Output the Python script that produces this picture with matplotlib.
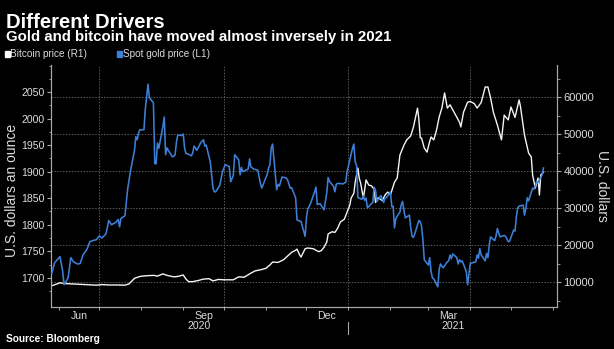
import numpy as np
import pandas as pd
import matplotlib
matplotlib.use("Agg")
import matplotlib.pyplot as plt
import matplotlib.dates as mdates
from matplotlib.patches import Rectangle
from matplotlib.lines import Line2D

plt.rcParams['font.family'] = ['Liberation Sans', 'DejaVu Sans']

# spot gold, USD per ounce (left axis)
gold_dates = [
    "2020-05-27", "2020-05-29", "2020-06-02", "2020-06-04", "2020-06-05", "2020-06-08",
    "2020-06-10", "2020-06-12", "2020-06-15", "2020-06-17", "2020-06-19", "2020-06-22",
    "2020-06-24", "2020-06-26", "2020-06-29", "2020-07-01", "2020-07-03", "2020-07-06",
    "2020-07-08", "2020-07-10", "2020-07-13", "2020-07-15", "2020-07-16", "2020-07-17",
    "2020-07-20", "2020-07-21", "2020-07-22", "2020-07-24", "2020-07-27", "2020-07-28",
    "2020-07-29", "2020-07-30", "2020-07-31", "2020-08-03", "2020-08-04", "2020-08-06",
    "2020-08-07", "2020-08-10", "2020-08-11", "2020-08-12", "2020-08-13", "2020-08-14",
    "2020-08-17", "2020-08-18", "2020-08-19", "2020-08-20", "2020-08-21", "2020-08-24",
    "2020-08-25", "2020-08-26", "2020-08-27", "2020-08-28", "2020-08-31", "2020-09-01",
    "2020-09-02", "2020-09-03", "2020-09-04", "2020-09-07", "2020-09-08", "2020-09-09",
    "2020-09-10", "2020-09-11", "2020-09-14", "2020-09-16", "2020-09-17", "2020-09-18",
    "2020-09-21", "2020-09-23", "2020-09-24", "2020-09-25", "2020-09-28", "2020-09-30",
    "2020-10-02", "2020-10-05", "2020-10-06", "2020-10-08", "2020-10-09", "2020-10-12",
    "2020-10-13", "2020-10-14", "2020-10-15", "2020-10-19", "2020-10-20", "2020-10-21",
    "2020-10-23", "2020-10-26", "2020-10-28", "2020-10-29", "2020-11-02", "2020-11-03",
    "2020-11-04", "2020-11-05", "2020-11-06", "2020-11-09", "2020-11-10", "2020-11-11",
    "2020-11-13", "2020-11-16", "2020-11-17", "2020-11-19", "2020-11-20", "2020-11-23",
    "2020-11-24", "2020-11-27", "2020-11-30", "2020-12-01", "2020-12-02", "2020-12-04",
    "2020-12-07", "2020-12-08", "2020-12-09", "2020-12-11", "2020-12-14", "2020-12-16",
    "2020-12-17", "2020-12-18", "2020-12-21", "2020-12-22", "2020-12-23", "2020-12-24",
    "2020-12-28", "2020-12-30", "2020-12-31", "2021-01-04", "2021-01-05", "2021-01-06",
    "2021-01-07", "2021-01-08", "2021-01-11", "2021-01-12", "2021-01-13", "2021-01-14",
    "2021-01-15", "2021-01-18", "2021-01-19", "2021-01-20", "2021-01-21", "2021-01-22",
    "2021-01-25", "2021-01-27", "2021-01-28", "2021-01-29", "2021-02-01", "2021-02-02",
    "2021-02-03", "2021-02-04", "2021-02-05", "2021-02-08", "2021-02-09", "2021-02-10",
    "2021-02-11", "2021-02-12", "2021-02-15", "2021-02-16", "2021-02-17", "2021-02-18",
    "2021-02-19", "2021-02-22", "2021-02-23", "2021-02-24", "2021-02-25", "2021-02-26",
    "2021-03-01", "2021-03-02", "2021-03-03", "2021-03-04", "2021-03-05", "2021-03-08",
    "2021-03-09", "2021-03-10", "2021-03-11", "2021-03-12", "2021-03-15", "2021-03-16",
    "2021-03-17", "2021-03-18", "2021-03-19", "2021-03-22", "2021-03-23", "2021-03-24",
    "2021-03-25", "2021-03-26", "2021-03-29", "2021-03-30", "2021-03-31", "2021-04-01",
    "2021-04-02", "2021-04-05", "2021-04-06", "2021-04-07", "2021-04-08", "2021-04-09",
    "2021-04-12", "2021-04-13", "2021-04-14", "2021-04-15", "2021-04-16", "2021-04-19",
    "2021-04-20", "2021-04-21", "2021-04-22", "2021-04-23", "2021-04-26", "2021-04-27",
    "2021-04-28", "2021-04-29", "2021-04-30", "2021-05-03", "2021-05-04", "2021-05-05",
    "2021-05-06", "2021-05-07", "2021-05-10", "2021-05-11", "2021-05-12", "2021-05-13",
    "2021-05-14", "2021-05-17", "2021-05-18", "2021-05-19", "2021-05-20", "2021-05-21",
    "2021-05-24", "2021-05-25",
]
gold_prices = [
    1709, 1728, 1740, 1712, 1687, 1700,
    1738, 1730, 1726, 1727, 1743, 1754,
    1768, 1770, 1772, 1779, 1775, 1783,
    1808, 1800, 1804, 1810, 1796, 1812,
    1817, 1842, 1868, 1900, 1940, 1966,
    1960, 1973, 1979, 1979, 2018, 2065,
    2039, 2030, 1915, 1915, 1954, 1944,
    1985, 2003, 1932, 1945, 1940, 1928,
    1929, 1932, 1956, 1969, 1968, 1971,
    1945, 1934, 1934, 1930, 1935, 1948,
    1945, 1940, 1955, 1960, 1948, 1950,
    1918, 1869, 1862, 1862, 1874, 1900,
    1913, 1910, 1881, 1893, 1932, 1922,
    1894, 1908, 1900, 1905, 1924, 1909,
    1905, 1903, 1878, 1869, 1895, 1907,
    1913, 1945, 1952, 1866, 1876, 1873,
    1890, 1888, 1885, 1869, 1870, 1851,
    1809, 1806, 1778, 1814, 1830, 1840,
    1862, 1871, 1838, 1840, 1828, 1860,
    1889, 1882, 1872, 1862, 1876, 1878,
    1877, 1880, 1900, 1944, 1952, 1918,
    1912, 1851, 1848, 1855, 1846, 1850,
    1832, 1840, 1842, 1871, 1865, 1844,
    1855, 1842, 1850, 1851, 1862, 1834,
    1835, 1794, 1812, 1824, 1838, 1844,
    1826, 1813, 1818, 1795, 1778, 1776,
    1783, 1808, 1806, 1797, 1771, 1734,
    1724, 1738, 1712, 1700, 1698, 1683,
    1716, 1726, 1722, 1719, 1730, 1732,
    1743, 1736, 1745, 1738, 1726, 1734,
    1730, 1732, 1712, 1687, 1708, 1728,
    1728, 1730, 1743, 1737, 1755, 1743,
    1732, 1746, 1738, 1763, 1777, 1770,
    1779, 1793, 1784, 1777, 1780, 1778,
    1773, 1768, 1769, 1790, 1788, 1815,
    1832, 1835, 1837, 1818, 1830, 1851,
    1845, 1869, 1867, 1874, 1881, 1880,
    1894, 1907,
]

# bitcoin, USD (right axis)
btc_dates = [
    "2020-05-27", "2020-05-31", "2020-06-02", "2020-06-05", "2020-06-10", "2020-06-15",
    "2020-06-20", "2020-06-25", "2020-06-29", "2020-07-03", "2020-07-08", "2020-07-14",
    "2020-07-20", "2020-07-23", "2020-07-27", "2020-07-31", "2020-08-02", "2020-08-05",
    "2020-08-10", "2020-08-13", "2020-08-17", "2020-08-20", "2020-08-25", "2020-08-28",
    "2020-09-01", "2020-09-03", "2020-09-05", "2020-09-08", "2020-09-12", "2020-09-16",
    "2020-09-20", "2020-09-23", "2020-09-27", "2020-10-01", "2020-10-08", "2020-10-12",
    "2020-10-16", "2020-10-21", "2020-10-24", "2020-10-28", "2020-11-01", "2020-11-04",
    "2020-11-06", "2020-11-10", "2020-11-14", "2020-11-17", "2020-11-20", "2020-11-23",
    "2020-11-24", "2020-11-26", "2020-11-27", "2020-11-30", "2020-12-02", "2020-12-06",
    "2020-12-10", "2020-12-12", "2020-12-14", "2020-12-16", "2020-12-17", "2020-12-20",
    "2020-12-22", "2020-12-24", "2020-12-26", "2020-12-29", "2020-12-31", "2021-01-02",
    "2021-01-03", "2021-01-05", "2021-01-06", "2021-01-08", "2021-01-09", "2021-01-10",
    "2021-01-12", "2021-01-13", "2021-01-14", "2021-01-16", "2021-01-18", "2021-01-20",
    "2021-01-21", "2021-01-23", "2021-01-26", "2021-01-28", "2021-01-30", "2021-02-01",
    "2021-02-04", "2021-02-06", "2021-02-08", "2021-02-11", "2021-02-13", "2021-02-16",
    "2021-02-18", "2021-02-21", "2021-02-22", "2021-02-23", "2021-02-24", "2021-02-26",
    "2021-02-28", "2021-03-02", "2021-03-03", "2021-03-05", "2021-03-07", "2021-03-09",
    "2021-03-11", "2021-03-13", "2021-03-15", "2021-03-17", "2021-03-20", "2021-03-24",
    "2021-03-25", "2021-03-27", "2021-03-30", "2021-04-01", "2021-04-04", "2021-04-06",
    "2021-04-09", "2021-04-12", "2021-04-14", "2021-04-16", "2021-04-18", "2021-04-21",
    "2021-04-24", "2021-04-26", "2021-04-29", "2021-05-01", "2021-05-04", "2021-05-07",
    "2021-05-08", "2021-05-11", "2021-05-14", "2021-05-16", "2021-05-17", "2021-05-19",
    "2021-05-21", "2021-05-22", "2021-05-23", "2021-05-25",
]
btc_prices = [
    9000, 9500, 9800, 9600, 9500, 9400,
    9300, 9200, 9150, 9300, 9200, 9200,
    9150, 9500, 11000, 11500, 11600, 11700,
    11800, 11600, 12200, 11800, 11400, 11500,
    11900, 10800, 10100, 10100, 10400, 10800,
    10900, 10300, 10700, 10600, 10600, 11400,
    11300, 12400, 13000, 13300, 13700, 14600,
    15400, 15300, 16000, 17000, 18000, 18600,
    18900, 17300, 16750, 19000, 19200, 19000,
    18200, 18500, 19400, 20800, 23000, 23600,
    23400, 24500, 26200, 27000, 28900, 30800,
    32700, 34000, 37000, 40800, 38000, 36750,
    32700, 35000, 37600, 36200, 36000, 35000,
    31500, 32800, 32000, 33500, 34300, 33500,
    37000, 38100, 44300, 47000, 48400, 49500,
    51900, 57000, 54000, 49000, 48900, 46200,
    45100, 48000, 49200, 48400, 51000, 54600,
    57000, 61100, 57000, 57900, 55900, 53200,
    51900, 55900, 58600, 58800, 58200, 57000,
    58500, 62700, 62700, 59700, 55900, 52400,
    48400, 55100, 53800, 57300, 54500, 59200,
    57500, 49700, 44900, 43800, 38900, 35400,
    38100, 33500, 38900, 39700,
]

year_labels = ["2020", "2021"]
month_labels = ["Jun", "Sep", "Dec", "Mar"]

gold_x = pd.to_datetime(gold_dates)
btc_x = pd.to_datetime(btc_dates)

fg = "#dcdcdc"
spine_col = "#a8a8a8"
grid_col = "#5a5a5a"
blue = "#3d7fd6"

fig = plt.figure(figsize=(6.14, 3.49), dpi=100, facecolor="black")
ax = fig.add_axes([50.5 / 614, 42 / 349, 506.5 / 614, 242 / 349])
ax.set_facecolor("black")
ax2 = ax.twinx()

# bitcoin below, gold on top
ax2.plot(btc_x, btc_prices, color="#f4f4f4", lw=1.0, zorder=3)
ax.plot(gold_x, gold_prices, color=blue, lw=1.15, zorder=4)
ax.set_zorder(ax2.get_zorder() + 1)
ax.patch.set_visible(False)

x0, x1 = pd.Timestamp("2020-05-26"), pd.Timestamp("2021-06-04")
ax.set_xlim(x0, x1)
ax.set_ylim(1645, 2101)
ax2.set_ylim(3250, 68650)

# grid: dotted, from the right axis and quarter starts
for v in range(10000, 60001, 10000):
    ax2.axhline(v, color=grid_col, lw=0.7, ls=(0, (1.5, 1.5)), zorder=1)
for d in ["2020-07-01", "2020-10-01", "2021-01-01", "2021-04-01"]:
    ax2.axvline(pd.Timestamp(d), color=grid_col, lw=0.7, ls=(0, (1.5, 1.5)), zorder=1)

for a in (ax, ax2):
    for s in a.spines.values():
        s.set_color(spine_col)
        s.set_linewidth(0.8)
    a.spines["top"].set_visible(False)

ax.set_yticks(np.arange(1700, 2051, 50))
ax.set_yticks(np.arange(1675, 2101, 25), minor=True)
ax.tick_params(axis="y", which="major", colors=spine_col, labelcolor=fg,
               labelsize=7.6, length=3, width=0.8, pad=1.5)
ax.tick_params(axis="y", which="minor", colors=spine_col, length=1.8, width=0.6)

ax2.set_yticks(np.arange(10000, 60001, 10000))
ax2.set_yticks(np.arange(5000, 65001, 5000), minor=True)
ax2.tick_params(axis="y", which="major", colors=spine_col, labelcolor=fg,
                labelsize=8, length=3, width=0.8, pad=1.5)
ax2.tick_params(axis="y", which="minor", colors=spine_col, length=1.8, width=0.6)

# month labels centred on mid-month, small ticks at month starts
mid = pd.to_datetime(["2020-06-16", "2020-09-16", "2020-12-16", "2021-03-16"])
ax.set_xticks(mid)
ax.set_xticklabels(month_labels)
ax.xaxis.set_minor_locator(mdates.MonthLocator())
ax.tick_params(axis="x", which="major", length=0, labelsize=7.6, labelcolor=fg, pad=3)
ax.tick_params(axis="x", which="minor", length=2.5, width=0.7, colors=spine_col)
ax2.tick_params(axis="x", which="both", length=0)

tr = ax.get_xaxis_transform()
split = pd.Timestamp("2021-01-01")
ax.text(x0 + (split - x0) / 2, -0.078, year_labels[0], transform=tr, ha="center",
        va="center", color=fg, fontsize=7.6)
ax.text(split + (x1 - split) / 2, -0.078, year_labels[1], transform=tr, ha="center",
        va="center", color=fg, fontsize=7.6)
ax.add_line(Line2D([split, split], [-0.06, -0.112], transform=tr, color=spine_col,
                   lw=0.8, clip_on=False))

# axis titles
fig.text(12 / 614, 1 - 190 / 349, "U.S. dollars an ounce", rotation=90, ha="center",
         va="center", color=fg, fontsize=10)
fig.text(602 / 614, 1 - 186 / 349, "U.S. dollars", rotation=270, ha="center",
         va="center", color=fg, fontsize=10)

# headline block
fig.text(6 / 614, 1 - 28.3 / 349, "Different Drivers", color="white",
         fontsize=14.6, fontweight="bold", va="baseline")
fig.text(6 / 614, 1 - 41.5 / 349, "Gold and bitcoin have moved almost inversely in 2021",
         color="white", fontsize=10.8, fontweight="bold", va="baseline")

# legend
fig.patches.append(Rectangle((5 / 614, 1 - 57 / 349), 5 / 614, 6 / 349,
                             transform=fig.transFigure, color="white"))
fig.text(10 / 614, 1 - 57 / 349, "Bitcoin price (R1)", color=fg, fontsize=7.2, va="baseline")
fig.patches.append(Rectangle((117 / 614, 1 - 57 / 349), 5 / 614, 6 / 349,
                             transform=fig.transFigure, color=blue))
fig.text(123 / 614, 1 - 57 / 349, "Spot gold price (L1)", color=fg, fontsize=7.2, va="baseline")

fig.text(6 / 614, 1 - 342 / 349, "Source: Bloomberg", color="white", fontsize=7.3,
         fontweight="bold", va="baseline")

fig.savefig("out.png", dpi=100, facecolor="black")
